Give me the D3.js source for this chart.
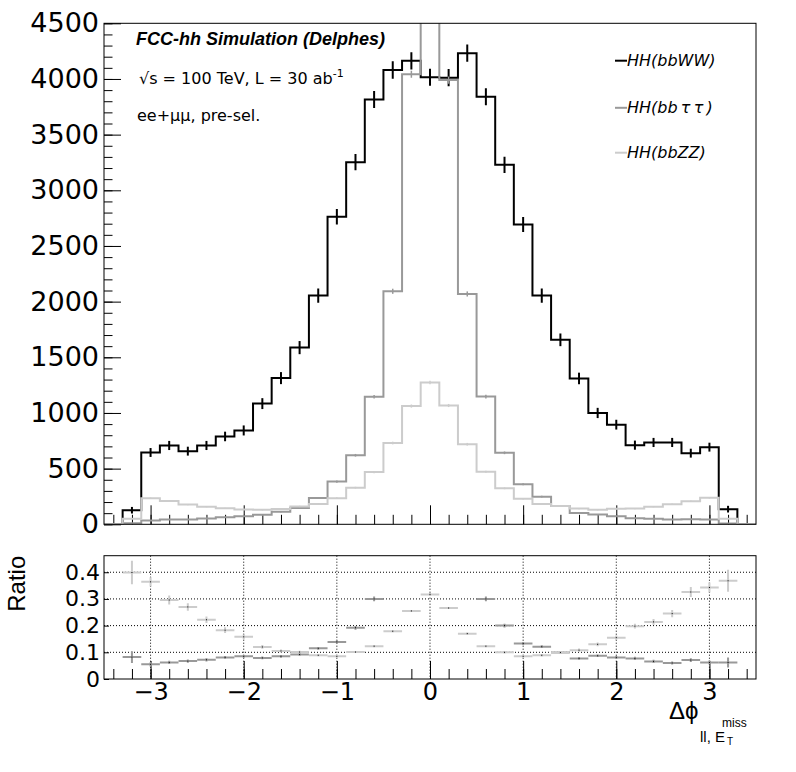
<!DOCTYPE html>
<html>
<head>
<meta charset="utf-8">
<script src="https://cdn.jsdelivr.net/npm/d3@7"></script>
<style>
  body { margin: 0; background: #fff; }
  text { font-family: "DejaVu Sans", "Liberation Sans", Arial, sans-serif; }
</style>
</head>
<body>
<div id="chart"></div>
<script>
// bins: 35 bins of width 0.2 from -3.5 to 3.5
const binLow = -3.5;
const binWidth = 0.2;

// HH(bbWW)
const bbWW = [0, 126, 645, 708, 657, 708, 789, 843, 1084, 1313, 1587, 2054, 2762, 3253, 3816, 4081, 4163,
  4015, 4012, 4232, 3840, 3229, 2693, 2054, 1657, 1310, 1000, 895, 711, 735, 735, 639, 693, 136, 0];
const bbWWErr = [0, 30, 40, 41, 40, 41, 43, 45, 49, 54, 59, 64, 70, 74, 77, 78, 78,
  77, 77, 78, 76, 73, 68, 64, 57, 52, 46, 44, 41, 41, 41, 40, 40, 30, 0];

// HH(bb tau tau), the central bin runs off the top of the frame
const bbTT = [0, 10, 35, 44, 44, 51, 64, 72, 86, 112, 146, 236, 384, 620, 1145, 2093, 4042,
  5600, 3990, 2069, 1147, 642, 360, 248, 164, 101, 87, 72, 55, 49, 44, 45, 43, 8, 0];
const bbTTErr = [0, 2, 3, 3, 3, 4, 4, 4, 5, 5, 6, 8, 10, 12, 16, 23, 32,
  37, 32, 23, 16, 12, 9, 8, 6, 5, 5, 4, 4, 4, 3, 3, 3, 2, 0];

// HH(bbZZ)
const bbZZ = [0, 50, 235, 210, 177, 157, 144, 133, 130, 138, 160, 183, 235, 329, 469, 730, 1062,
  1273, 1067, 719, 472, 323, 229, 183, 164, 141, 130, 139, 141, 157, 180, 208, 238, 50, 0];
const bbZZErr = [0, 3, 6, 6, 5, 5, 5, 5, 5, 5, 6, 6, 7, 8, 10, 12, 14,
  16, 14, 12, 10, 8, 7, 6, 6, 5, 5, 5, 5, 5, 6, 6, 7, 3, 0];

// ratio panel (null = no point inside the axis range)
const ratioTT = [null, 0.082, 0.055, 0.062, 0.067, 0.072, 0.081, 0.085, 0.079, 0.085, 0.092, 0.115, 0.139, 0.192, 0.300,
  null, null, null, null, null,
  0.300, 0.200, 0.133, 0.121, 0.099, 0.077, 0.087, 0.081, 0.077, 0.066, 0.060, 0.071, 0.062, 0.062, null];
const ratioTTErr = [null, 0.022, 0.008, 0.006, 0.006, 0.006, 0.005, 0.005, 0.005, 0.005, 0.005, 0.005, 0.006, 0.007, 0.009,
  null, null, null, null, null,
  0.009, 0.007, 0.006, 0.005, 0.005, 0.005, 0.005, 0.005, 0.006, 0.006, 0.006, 0.007, 0.007, 0.019, null];
const ratioZZ = [null, 0.399, 0.364, 0.296, 0.270, 0.222, 0.183, 0.158, 0.120, 0.105, 0.101, 0.089, 0.085, 0.101, 0.123,
  0.179, 0.255, 0.317, 0.266, 0.170, 0.123, 0.100, 0.085, 0.089, 0.099, 0.108, 0.130, 0.155, 0.198, 0.214, 0.245,
  0.326, 0.343, 0.368, null];
const ratioZZErr = [null, 0.044, 0.017, 0.017, 0.014, 0.012, 0.011, 0.009, 0.007, 0.006, 0.005, 0.004, 0.004, 0.004, 0.004,
  0.004, 0.004, 0.005, 0.004, 0.004, 0.004, 0.004, 0.004, 0.005, 0.005, 0.006, 0.007, 0.008, 0.009, 0.011, 0.014,
  0.019, 0.019, 0.041, null];

// tick values
const mainYTicks = [0, 500, 1000, 1500, 2000, 2500, 3000, 3500, 4000, 4500];
const ratioYTicks = [0, 0.1, 0.2, 0.3, 0.4];
const xMajorTicks = [-3, -2, -1, 0, 1, 2, 3];

const series = [
  { name: "HH(bbWW)", values: bbWW, errs: bbWWErr, color: "#000000", errWidth: 2 },
  { name: "HH(bb\u2009\u03c4\u2009\u03c4\u2009)", values: bbTT, errs: bbTTErr, color: "#999999", errWidth: 1.5 },
  { name: "HH(bbZZ)", values: bbZZ, errs: bbZZErr, color: "#cccccc", errWidth: 1.5 }
];

const width = 796, height = 772;
const frameL = 104, frameR = 756;
const mainTop = 23.3, mainBot = 524.3;
const ratTop = 555.7, ratBot = 679;

const svg = d3.select("#chart").append("svg")
  .attr("width", width)
  .attr("height", height);

const x = d3.scaleLinear().domain([-3.5, 3.5]).range([frameL, frameR]);
const y = d3.scaleLinear().domain([0, 4500]).range([mainBot, mainTop]);
const yr = d3.scaleLinear().domain([0, 0.462]).range([ratBot, ratTop]);

const xMinor = d3.range(-17, 18).map(i => +(i * 0.2).toFixed(1));
const yMinor = d3.range(0, 4501, 100);
const bins = bbWW.map((_, i) => binLow + (i + 0.5) * binWidth);

// clip paths for both frames
const defs = svg.append("defs");
defs.append("clipPath").attr("id", "clipMain").append("rect")
  .attr("x", frameL).attr("y", mainTop).attr("width", frameR - frameL).attr("height", mainBot - mainTop);
defs.append("clipPath").attr("id", "clipRatio").append("rect")
  .attr("x", frameL).attr("y", ratTop).attr("width", frameR - frameL).attr("height", ratBot - ratTop);

function styleAxis(size) {
  return g => {
    g.select(".domain").remove();
    g.selectAll(".tick line").attr("stroke", "#000").attr("stroke-width", 1);
    g.selectAll(".tick text")
      .attr("fill", "#000")
      .style("font-size", size + "px")
      .style("font-family", "'DejaVu Sans', sans-serif");
  };
}

// ---------- main pad ----------
// x ticks (no labels)
svg.append("g").attr("transform", `translate(0,${mainBot})`)
  .call(d3.axisBottom(x).tickValues(xMinor).tickSize(-9.5).tickSizeOuter(0).tickFormat(""))
  .call(styleAxis(24));
svg.append("g").attr("transform", `translate(0,${mainBot})`)
  .call(d3.axisBottom(x).tickValues(xMajorTicks).tickSize(-19).tickSizeOuter(0).tickFormat(""))
  .call(styleAxis(24));

// y ticks
svg.append("g").attr("transform", `translate(${frameL},0)`)
  .call(d3.axisLeft(y).tickValues(yMinor).tickSize(-8.5).tickSizeOuter(0).tickFormat(""))
  .call(styleAxis(27));
svg.append("g").attr("transform", `translate(${frameL},0)`)
  .call(d3.axisLeft(y).tickValues(mainYTicks).tickSize(-17).tickSizeOuter(0).tickPadding(5).tickFormat(d3.format("d")))
  .call(styleAxis(27));

// histograms
const histG = svg.append("g").attr("clip-path", "url(#clipMain)");
const line = d3.line().x(d => x(d[0])).y(d => y(d[1]));

function stepPoints(values) {
  const pts = [[binLow, 0]];
  values.forEach((v, i) => {
    const lo = binLow + i * binWidth;
    pts.push([lo, v], [lo + binWidth, v]);
  });
  pts.push([binLow + values.length * binWidth, 0]);
  return pts;
}

series.forEach(s => {
  histG.append("path")
    .attr("d", line(stepPoints(s.values)))
    .attr("fill", "none")
    .attr("stroke", s.color)
    .attr("stroke-width", 2);
  histG.selectAll(null)
    .data(bins.map((c, i) => ({ c, v: s.values[i], e: s.errs[i] })).filter(d => d.v > 0))
    .enter().append("line")
    .attr("x1", d => x(d.c)).attr("x2", d => x(d.c))
    .attr("y1", d => y(d.v - d.e)).attr("y2", d => y(d.v + d.e))
    .attr("stroke", s.color)
    .attr("stroke-width", s.errWidth);
});

svg.append("rect")
  .attr("x", frameL).attr("y", mainTop)
  .attr("width", frameR - frameL).attr("height", mainBot - mainTop)
  .attr("fill", "none").attr("stroke", "#000").attr("stroke-width", 1);

// labels in the main pad
svg.append("text").attr("x", 136).attr("y", 45)
  .style("font-family", "'Liberation Sans', Arial, sans-serif")
  .style("font-size", "18px").style("font-weight", "bold").style("font-style", "italic")
  .text("FCC-hh Simulation (Delphes)");

const lumi = svg.append("text").attr("x", 139).attr("y", 84).style("font-size", "16px");
lumi.append("tspan").text("\u221as = 100 TeV, L = 30 ab");
lumi.append("tspan").attr("dy", -7).style("font-size", "11px").text("-1");

svg.append("text").attr("x", 137).attr("y", 121)
  .style("font-size", "16px")
  .text("ee+\u03bc\u03bc, pre-sel.");

// legend
const legendY = [60.7, 107.8, 152.7];
series.forEach((s, i) => {
  svg.append("line")
    .attr("x1", 615).attr("x2", 627)
    .attr("y1", legendY[i]).attr("y2", legendY[i])
    .attr("stroke", s.color).attr("stroke-width", 2);
  svg.append("text")
    .attr("x", 627).attr("y", legendY[i] + 5.5)
    .style("font-size", "16px").style("font-style", "italic")
    .text(s.name);
});

// ---------- ratio pad ----------
// grid
const gridG = svg.append("g");
gridG.selectAll(null).data(ratioYTicks.slice(1)).enter().append("line")
  .attr("x1", frameL).attr("x2", frameR)
  .attr("y1", d => yr(d)).attr("y2", d => yr(d))
  .attr("stroke", "#000").attr("stroke-width", 1).attr("stroke-dasharray", "1,2");
gridG.selectAll(null).data(xMajorTicks).enter().append("line")
  .attr("x1", d => x(d)).attr("x2", d => x(d))
  .attr("y1", ratTop).attr("y2", ratBot)
  .attr("stroke", "#000").attr("stroke-width", 1).attr("stroke-dasharray", "1,2");

svg.append("g").attr("transform", `translate(0,${ratBot})`)
  .call(d3.axisBottom(x).tickValues(xMinor).tickSize(-10).tickSizeOuter(0).tickFormat(""))
  .call(styleAxis(24));
svg.append("g").attr("transform", `translate(0,${ratBot})`)
  .call(d3.axisBottom(x).tickValues(xMajorTicks).tickSize(-18).tickSizeOuter(0).tickPadding(4).tickFormat(d3.format("d")))
  .call(styleAxis(24));
svg.append("g").attr("transform", `translate(${frameL},0)`)
  .call(d3.axisLeft(yr).tickValues(ratioYTicks).tickSize(-5).tickSizeOuter(0).tickPadding(4)
    .tickFormat(d => d === 0 ? "0" : d3.format(".1f")(d)))
  .call(styleAxis(22));

const ratioG = svg.append("g").attr("clip-path", "url(#clipRatio)");
const ratioSeries = [
  { values: ratioTT, errs: ratioTTErr, color: "#999999" },
  { values: ratioZZ, errs: ratioZZErr, color: "#cccccc" }
];
ratioSeries.forEach(s => {
  const pts = bins.map((c, i) => ({ c, r: s.values[i], e: s.errs[i] })).filter(d => d.r !== null);
  const g = ratioG.selectAll(null).data(pts).enter().append("g");
  g.append("line")
    .attr("x1", d => x(d.c - binWidth / 2)).attr("x2", d => x(d.c + binWidth / 2))
    .attr("y1", d => yr(d.r)).attr("y2", d => yr(d.r))
    .attr("stroke", s.color).attr("stroke-width", 2);
  g.append("line")
    .attr("x1", d => x(d.c)).attr("x2", d => x(d.c))
    .attr("y1", d => yr(d.r - d.e)).attr("y2", d => yr(d.r + d.e))
    .attr("stroke", s.color).attr("stroke-width", 2);
  g.append("rect")
    .attr("x", d => x(d.c) - 0.5).attr("y", d => yr(d.r) - 0.5)
    .attr("width", 1).attr("height", 1).attr("fill", "#000");
});

svg.append("rect")
  .attr("x", frameL).attr("y", ratTop)
  .attr("width", frameR - frameL).attr("height", ratBot - ratTop)
  .attr("fill", "none").attr("stroke", "#000").attr("stroke-width", 1);

// axis titles
svg.append("text")
  .attr("transform", `translate(25,${ratTop}) rotate(-90)`)
  .attr("text-anchor", "end")
  .style("font-family", "'Liberation Sans', Arial, sans-serif")
  .style("font-size", "24px")
  .text("Ratio");

const xt = svg.append("text").attr("x", 669).attr("y", 719)
  .style("font-family", "'Liberation Sans', Arial, sans-serif").style("font-size", "24px");
xt.append("tspan").text("\u0394\u03d5");
xt.append("tspan").attr("x", 700).attr("y", 741.5).style("font-size", "15px").text("ll, E");
svg.append("text").attr("x", 722).attr("y", 727)
  .style("font-family", "'Liberation Sans', Arial, sans-serif").style("font-size", "12px").text("miss");
svg.append("text").attr("x", 727).attr("y", 744.5)
  .style("font-family", "'Liberation Sans', Arial, sans-serif").style("font-size", "10px").text("T");
</script>
</body>
</html>
